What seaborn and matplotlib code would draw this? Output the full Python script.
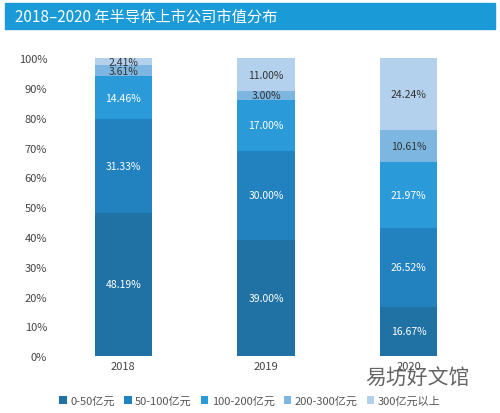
import matplotlib
matplotlib.use("Agg")
import matplotlib.pyplot as plt
import seaborn as sns
import pandas as pd
import numpy as np

sns.set_theme(style="white")
plt.rcParams['font.family'] = ['Noto Sans CJK SC', 'DejaVu Sans']

years = ["2018", "2019", "2020"]
series = ["0-50亿元", "50-100亿元", "100-200亿元", "200-300亿元", "300亿元以上"]
v0_50 = [48.19, 39.00, 16.67]
v50_100 = [31.33, 30.00, 26.52]
v100_200 = [14.46, 17.00, 21.97]
v200_300 = [3.61, 3.00, 10.61]
v300 = [2.41, 11.00, 24.24]
values = [v0_50, v50_100, v100_200, v200_300, v300]
colors = ["#1f72a3", "#2182bf", "#2a9bd8", "#7db7e1", "#b3d1ec"]
txtcol = ["white", "white", "white", "#333333", "#333333"]

fig = plt.figure(figsize=(5.0, 4.14), dpi=100)
ax = fig.add_axes([0.104, 0.137, 0.856, 0.72])

bottom = np.zeros(3)
for s, vals, c, tc in zip(series, values, colors, txtcol):
    df = pd.DataFrame({"year": years, "v": vals})
    sns.barplot(data=df, x="year", y="v", color=c, width=0.4, ax=ax,
                bottom=bottom, label=s, saturation=1, linewidth=0)
    for i, v in enumerate(vals):
        ax.text(i, bottom[i] + v / 2, f"{v:.2f}%", ha="center", va="center",
                fontsize=7.5, color=tc)
    bottom += np.array(vals)

ax.set_ylim(0, 100)
ax.set_xlim(-0.5, 2.5)
ax.set_yticks(range(0, 101, 10))
ax.set_yticklabels([f"{t}%" for t in range(0, 101, 10)], fontsize=8, color="#444444")
ax.tick_params(axis="x", labelsize=8, colors="#444444", length=0)
ax.tick_params(axis="y", length=0)
ax.set_xlabel("")
ax.set_ylabel("")
for sp in ax.spines.values():
    sp.set_visible(False)

h, l = ax.get_legend_handles_labels()
if ax.get_legend() is not None:
    ax.get_legend().remove()
fig.legend(h, l, loc="center", bbox_to_anchor=(0.5, 0.03), ncol=5, frameon=False,
           fontsize=8, handlelength=0.7, handleheight=0.7, columnspacing=0.8,
           handletextpad=0.3, labelcolor="#555555")

fig.patches.append(plt.Rectangle((0.01, 0.927), 0.98, 0.063, transform=fig.transFigure,
                                 color="#1a9ad6", zorder=0))
fig.text(0.03, 0.958, "2018–2020 年半导体上市公司市值分布", color="white",
         fontsize=11, va="center", ha="left")
fig.text(0.835, 0.085, "易坊好文馆", fontsize=15, color="#666666", ha="center", va="center")

fig.savefig("out.png", dpi=100)
